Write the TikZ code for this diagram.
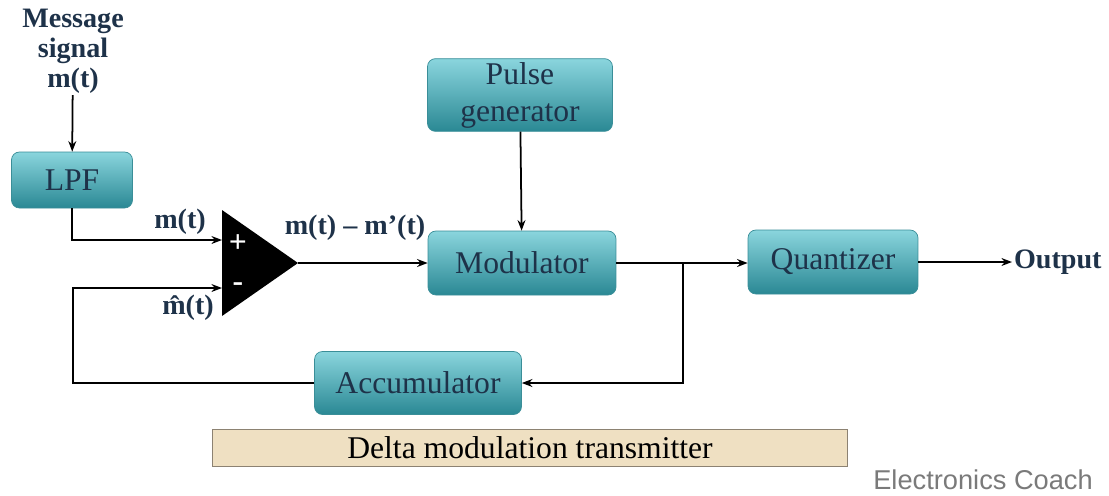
\documentclass[tikz,border=0pt]{standalone}
\usepackage{fontspec}
\setmainfont{Liberation Serif}
\setsansfont{Liberation Sans}
\usetikzlibrary{positioning, arrows.meta, calc}
\definecolor{boxtop}{HTML}{8AD5DD}
\definecolor{boxbot}{HTML}{2A8894}
\definecolor{boxline}{HTML}{3A8E98}
\definecolor{labtext}{HTML}{1E3249}
\definecolor{capfill}{HTML}{EFE0C2}
\definecolor{capline}{HTML}{8C8272}
\definecolor{credit}{HTML}{7A7A7A}

\begin{document}
\begin{tikzpicture}[
         x=0.02cm, y=-0.02cm,
         >={Stealth[length=6pt, width=4.5pt]},
         block/.style={rectangle, rounded corners=4.5pt, draw=boxline, top color=boxtop, bottom color=boxbot,
                       text=labtext, font=\fontsize{18}{21}\selectfont, align=center, inner sep=2pt},
         signal/.style={text=labtext, font=\bfseries\fontsize{16}{17}\selectfont, align=center, inner sep=1pt},
         wire/.style={line width=1pt},
         banner/.style={rectangle, draw=capline, fill=capfill, font=\fontsize{18}{19}\selectfont,
                        minimum width=12.7cm, minimum height=0.74cm}
      ]
         \useasboundingbox (0,0) rectangle (1109,495);

         % Blocks
         \node[signal] (msg) at (73,51) {Message\\signal\\m(t)};
         \node[block, minimum width=2.42cm, minimum height=1.12cm] (lpf) at (72,180) {LPF};
         \node[block, minimum width=3.7cm, minimum height=1.4cm] (pulse) at (520,95) {Pulse\\generator};
         \node[block, minimum width=3.76cm, minimum height=1.28cm] (mod) at (522,263) {Modulator};
         \node[block, minimum width=3.4cm, minimum height=1.28cm] (quant) at (833,262) {Quantizer};
         \node[signal, anchor=west] (out) at (1012,262) {Output};

         \node[block, minimum width=4.14cm, minimum height=1.26cm] (acc) at (418,383) {Accumulator};

         % Summing amplifier
         \fill (222,210) -- (298,263) -- (222,316) -- cycle;
         \coordinate (plus) at (222,240);
         \coordinate (minus) at (222,288);
         \coordinate (apex) at (298,263);
         \node[text=white, font=\bfseries\fontsize{18}{18}\selectfont] (plussign) at (238,244) {+};
         \node[text=white, font=\bfseries\fontsize{18}{18}\selectfont] (minussign) at (238,287) {-};

         % Connectors
         \coordinate (split) at (683,263);
         \coordinate (fb) at (73,288);
         \draw[wire,->] (msg) -- (lpf);
         \draw[wire,->] (lpf.south) |- (plus);
         \draw[wire,->] (apex) -- (mod.west);
         \draw[wire,->] (pulse) -- (mod);
         \draw[wire] (mod.east) -- (split);
         \draw[wire,->] (split) -- (split -| quant.west);
         \draw[wire,->] (quant.east) -- (out.west);
         \draw[wire,->] (split) |- (acc.east);
         \draw[wire,->] (acc.west) -| (fb) -- (minus);

         % Signal labels
         \node[signal] (mt) at (180,222) {m(t)};
         \node[signal] (mhat) at (188,308) {\^{m}(t)};
         \node[signal] (diff) at (355,228) {m(t) – m’(t)};

         % Caption
         \node[banner] (cap) at (530,448) {Delta modulation transmitter};
         \node[anchor=east, text=credit, font=\sffamily\fontsize{15.5}{16}\selectfont] (credit) at (1099,480) {Electronics Coach};
      \end{tikzpicture}
\end{document}
